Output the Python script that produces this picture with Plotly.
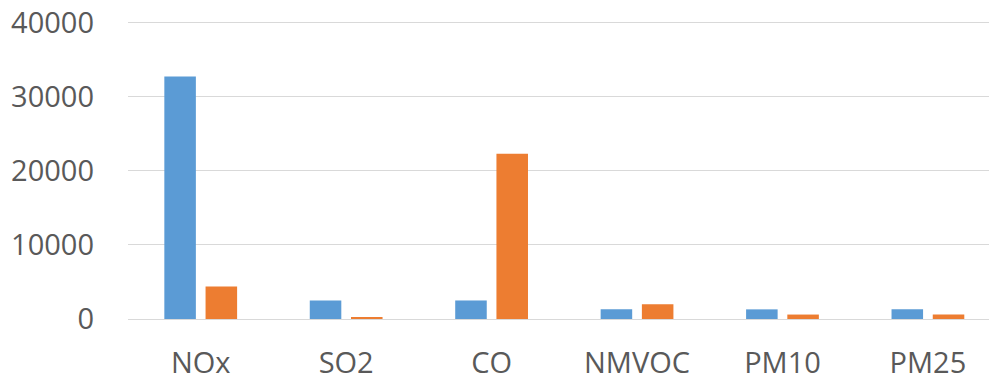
import plotly.graph_objects as go

categories = ["NOx", "SO2", "CO", "NMVOC", "PM10", "PM25"]
series_blue = [32700, 2500, 2500, 1300, 1300, 1300]
series_orange = [4400, 200, 22300, 2000, 600, 600]
y_ticks = [0, 10000, 20000, 30000, 40000]

fig = go.Figure()
fig.add_trace(go.Bar(x=categories, y=series_blue, marker_color="#5B9BD5", marker_line_width=0, name="A"))
fig.add_trace(go.Bar(x=categories, y=series_orange, marker_color="#ED7D31", marker_line_width=0, name="B"))

font_family = "Open Sans, Liberation Sans, sans-serif"
fig.update_layout(
    width=989, height=378,
    margin=dict(l=128, r=0, t=21, b=59),
    paper_bgcolor="white", plot_bgcolor="white",
    barmode="group", bargap=0.433, bargroupgap=0.235,
    showlegend=False,
    font=dict(family=font_family, size=29, color="#595959"),
)
fig.update_xaxes(
    range=[-0.5, 5.42], showgrid=False, zeroline=False, showline=False,
    ticks="", ticklabelstandoff=24, automargin=False,
    tickfont=dict(size=29, color="#595959", family=font_family),
)
fig.update_yaxes(
    range=[0, 40200], tickvals=y_ticks, ticktext=[str(v) for v in y_ticks],
    showgrid=True, gridcolor="#D9D9D9", gridwidth=1,
    zeroline=True, zerolinecolor="#D9D9D9", zerolinewidth=1,
    showline=False, ticks="", ticklabelstandoff=33, automargin=False,
    tickfont=dict(size=29, color="#595959", family=font_family),
)

fig.write_html("out.html", config={"displayModeBar": False},
               post_script="document.body.style.margin='0';")
